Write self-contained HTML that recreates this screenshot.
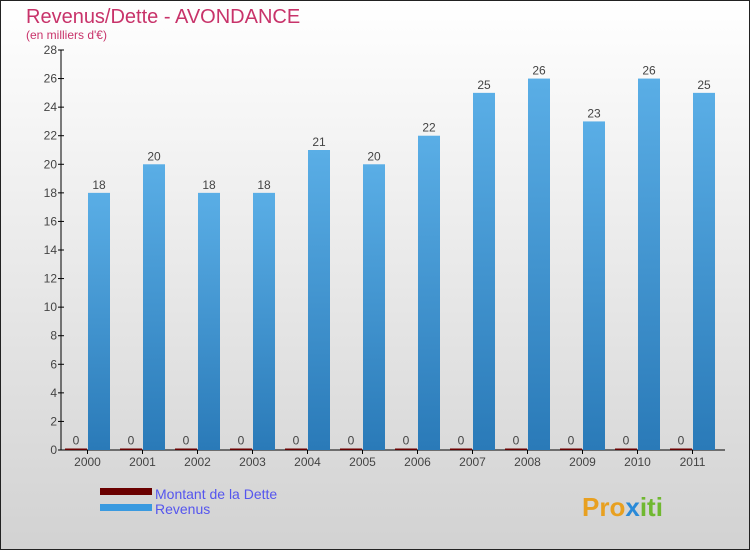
<!DOCTYPE html>
<html><head><meta charset="utf-8"><style>
body{margin:0}
#c{width:750px;height:550px;position:relative;box-sizing:border-box;border:1px solid #222;background:linear-gradient(#ffffff,#d2d2d2);font-family:"Liberation Sans",sans-serif;overflow:hidden}
</style></head><body>
<div id="c">
<svg id="s" width="750" height="550" style="position:absolute;left:-1px;top:-1px">
<defs><linearGradient id="bg" x1="0" y1="0" x2="0" y2="1"><stop offset="0" stop-color="#5aaee6"/><stop offset="1" stop-color="#2a7ab8"/></linearGradient></defs>
<text x="26" y="23" font-size="20" fill="#c8336a">Revenus/Dette - AVONDANCE</text>
<text x="26" y="39" font-size="12" fill="#c8336a">(en milliers d'€)</text>
<g id="g"></g>
<rect x="100" y="488" width="52" height="7" fill="#6a0000"/>
<text x="155" y="499" font-size="14" fill="#5555ee">Montant de la Dette</text>
<rect x="100" y="504" width="52" height="7" fill="#3a9ae0"/>
<text x="155" y="514" font-size="14" fill="#5555ee">Revenus</text>
<text x="582" y="516" font-size="26" font-weight="bold" fill="#e8a020">Pro<tspan fill="#2a8ad8">x</tspan><tspan fill="#70b830">iti</tspan></text>
</svg>
</div>
<script>
const categories=["2000","2001","2002","2003","2004","2005","2006","2007","2008","2009","2010","2011"];
const dette=[0,0,0,0,0,0,0,0,0,0,0,0];
const revenus=[18,20,18,18,21,20,22,25,26,23,26,25];
const yTicks=[0,2,4,6,8,10,12,14,16,18,20,22,24,26,28];
const NS="http://www.w3.org/2000/svg";
const g=document.getElementById('g');
const y0=450,yTop=50,yMax=28;
function y(v){return y0-(v/yMax)*(y0-yTop);}
function xg(i){return 65+55*i;}
function mk(t,a,txt){const e=document.createElementNS(NS,t);for(const k in a)e.setAttribute(k,a[k]);if(txt!==undefined)e.textContent=txt;g.appendChild(e);return e;}
let ax=mk('line',{x1:61,y1:yTop,x2:61,y2:y0,stroke:'#000'});


let bx=mk('line',{x1:61,y1:y0,x2:725,y2:y0,stroke:'#000'});


yTicks.forEach(v=>{
 let t=mk('line',{x1:58,y1:y(v),x2:64,y2:y(v),stroke:'#000'});
 
 
 let l=mk('text',{x:57,y:y(v)+4,'font-size':12,fill:'#444','text-anchor':'end'},v);
 
 
});
categories.forEach((c,i)=>{
 const x=xg(i);
 let t=mk('line',{x1:x+22.5,y1:y0,x2:x+22.5,y2:y0+4,stroke:'#000'});
 
 
 let l=mk('text',{x:x+22.5,y:y0+16,'font-size':12,fill:'#444','text-anchor':'middle'},c);
 
 
 let hd=Math.max(y0-y(dette[i]),1.5);
 let d=mk('rect',{x:x,y:y0-hd,width:22,height:hd,fill:'#6a0000'});
 
 
 let dl=mk('text',{x:x+11,y:y0-hd-4,'font-size':12,fill:'#444','text-anchor':'middle'},dette[i]);
 
 
 let r=mk('rect',{x:x+23,y:y(revenus[i]),width:22,height:y0-y(revenus[i]),fill:'url(#bg)'});
 
 
 let rl=mk('text',{x:x+34,y:y(revenus[i])-4,'font-size':12,fill:'#444','text-anchor':'middle'},revenus[i]);
 
 
});
</script>
</body></html>
